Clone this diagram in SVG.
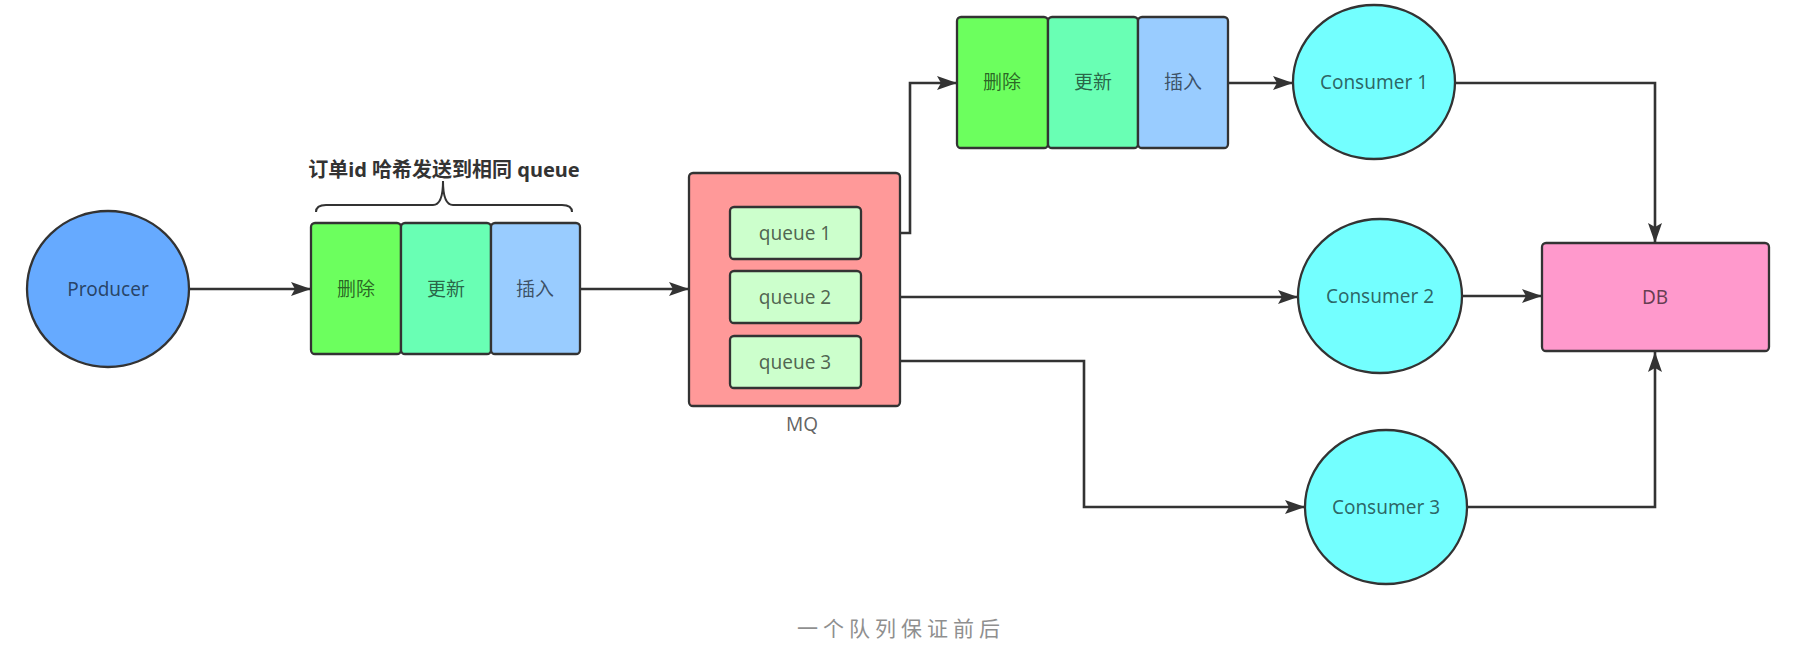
<svg xmlns="http://www.w3.org/2000/svg" width="1796" height="650" viewBox="0 0 1796 650">
  <style>
    .edge{fill:none;stroke:#333;stroke-width:2.6}
    .shape{stroke:#333;stroke-width:2.3}
    .lbl{font-family:"Noto Sans","Noto Sans CJK SC",sans-serif;font-size:19px;fill:#000;fill-opacity:0.62;text-anchor:middle;dominant-baseline:central}
    .title{font-family:"Noto Sans","Noto Sans CJK SC",sans-serif;font-size:20px;font-weight:bold;fill:#333}
    .cap{font-family:"Noto Sans CJK SC",sans-serif;font-size:21px;fill:#8f8f8f;letter-spacing:5px}
    .del{fill:#6CFF5E}
    .upd{fill:#69FFB4}
    .ins{fill:#99CCFF}
    .q{fill:#CCFFCC}
    .cons{fill:#73FFFF}
  </style>
  <defs>
    <marker id="arr" markerUnits="userSpaceOnUse" markerWidth="22" markerHeight="16" refX="20" refY="7" orient="auto">
      <path d="M0,0 L20,7 L0,14 L4,7 Z" fill="#333"/>
    </marker>
  </defs>
  <rect width="1796" height="650" fill="#fff"/>

  <g id="connectors">
    <path class="edge" d="M189,289 H311" marker-end="url(#arr)"/>
    <path class="edge" d="M580,289 H689" marker-end="url(#arr)"/>
    <path class="edge" d="M861,233 H910 V83 H957" marker-end="url(#arr)"/>
    <path class="edge" d="M1228,83 H1293" marker-end="url(#arr)"/>
    <path class="edge" d="M861,297 H1298" marker-end="url(#arr)"/>
    <path class="edge" d="M861,361 H1084 V507 H1305" marker-end="url(#arr)"/>
    <path class="edge" d="M1455,83 H1655 V243" marker-end="url(#arr)"/>
    <path class="edge" d="M1462,296 H1542" marker-end="url(#arr)"/>
    <path class="edge" d="M1467,507 H1655 V352" marker-end="url(#arr)"/>
  </g>

  <g id="producer">
    <ellipse class="shape" cx="108" cy="289" rx="81" ry="78" fill="#66AAFF"/>
    <text class="lbl" x="108" y="289">Producer</text>
  </g>

  <g id="order-note">
    <path d="M316,212 Q316,205 326,205 L433,205 Q443,205 443,181 Q443,205 453,205 L562,205 Q572,205 572,212" fill="none" stroke="#333" stroke-width="2"/>
    <text class="title" x="444" y="177" text-anchor="middle">订单id 哈希发送到相同 queue</text>
  </g>

  <g id="left-queue">
    <rect class="shape del" x="311" y="223" width="90" height="131" rx="4"/>
    <text class="lbl" x="356" y="289">删除</text>
    <rect class="shape upd" x="401" y="223" width="90" height="131" rx="4"/>
    <text class="lbl" x="446" y="289">更新</text>
    <rect class="shape ins" x="491" y="223" width="89" height="131" rx="4"/>
    <text class="lbl" x="535" y="289">插入</text>
  </g>

  <g id="mq">
    <rect class="shape" x="689" y="173" width="211" height="233" rx="4" fill="#FF9999"/>
    <text class="lbl" x="802" y="424">MQ</text>
  </g>

  <g id="queue1">
    <rect class="shape q" x="730" y="207" width="131" height="52" rx="4"/>
    <text class="lbl" x="795" y="233">queue 1</text>
  </g>
  <g id="queue2">
    <rect class="shape q" x="730" y="271" width="131" height="52" rx="4"/>
    <text class="lbl" x="795" y="297">queue 2</text>
  </g>
  <g id="queue3">
    <rect class="shape q" x="730" y="336" width="131" height="52" rx="4"/>
    <text class="lbl" x="795" y="362">queue 3</text>
  </g>

  <g id="top-queue">
    <rect class="shape del" x="957" y="17" width="91" height="131" rx="4"/>
    <text class="lbl" x="1002" y="82">删除</text>
    <rect class="shape upd" x="1048" y="17" width="90" height="131" rx="4"/>
    <text class="lbl" x="1093" y="82">更新</text>
    <rect class="shape ins" x="1138" y="17" width="90" height="131" rx="4"/>
    <text class="lbl" x="1183" y="82">插入</text>
  </g>

  <g id="consumer1">
    <ellipse class="shape cons" cx="1374" cy="82" rx="81" ry="77"/>
    <text class="lbl" x="1374" y="82">Consumer 1</text>
  </g>
  <g id="consumer2">
    <ellipse class="shape cons" cx="1380" cy="296" rx="82" ry="77"/>
    <text class="lbl" x="1380" y="296">Consumer 2</text>
  </g>
  <g id="consumer3">
    <ellipse class="shape cons" cx="1386" cy="507" rx="81" ry="77"/>
    <text class="lbl" x="1386" y="507">Consumer 3</text>
  </g>

  <g id="db">
    <rect class="shape" x="1542" y="243" width="227" height="108" rx="4" fill="#FF99CC"/>
    <text class="lbl" x="1655" y="297">DB</text>
  </g>

  <text class="cap" x="797" y="636">一个队列保证前后</text>
</svg>
